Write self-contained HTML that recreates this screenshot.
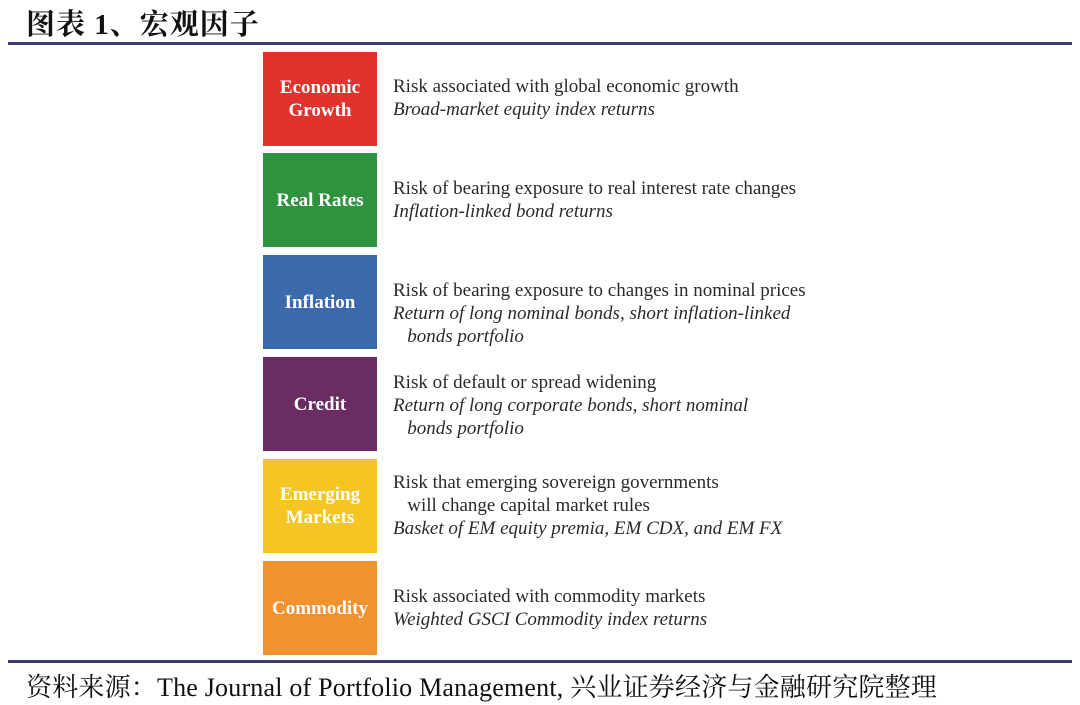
<!DOCTYPE html>
<html><head><meta charset="utf-8"><style>
body{margin:0;width:1080px;height:705px;background:#fff;position:relative;overflow:hidden;font-family:"Liberation Serif","Noto Serif CJK SC",serif;}
.t{position:absolute;left:26px;top:2px;font-size:29px;color:#111;font-weight:bold;letter-spacing:1px;}
.l{position:absolute;left:8px;width:1064px;height:3px;background:#3b3b70;}
.b{position:absolute;left:263px;width:114px;height:94px;color:#fff;font-weight:bold;font-size:19px;display:flex;align-items:center;justify-content:center;text-align:center;line-height:23px;}
.d{position:absolute;left:393px;font-size:19px;color:#2a2a2a;line-height:23px;white-space:nowrap;}
.d i{display:block;}
.f{position:absolute;left:26px;top:667px;font-size:26px;color:#111;white-space:nowrap;letter-spacing:0.2px;}
</style></head><body>
<div class="t">图表 1、宏观因子</div>
<div class="l" style="top:42px"></div>
<div class="b" style="top:52px;background:#e0332d">Economic<br>Growth</div>
<div class="d" style="top:75px">Risk associated with global economic growth<i>Broad-market equity index returns</i></div>
<div class="b" style="top:153px;background:#2f923f">Real Rates</div>
<div class="d" style="top:177px">Risk of bearing exposure to real interest rate changes<i>Inflation-linked bond returns</i></div>
<div class="b" style="top:255px;background:#3b6aaa">Inflation</div>
<div class="d" style="top:279px">Risk of bearing exposure to changes in nominal prices<i>Return of long nominal bonds, short inflation-linked</i><i>&nbsp;&nbsp;&nbsp;bonds portfolio</i></div>
<div class="b" style="top:357px;background:#6a2c63">Credit</div>
<div class="d" style="top:371px">Risk of default or spread widening<i>Return of long corporate bonds, short nominal</i><i>&nbsp;&nbsp;&nbsp;bonds portfolio</i></div>
<div class="b" style="top:459px;background:#f5c523">Emerging<br>Markets</div>
<div class="d" style="top:471px">Risk that emerging sovereign governments<br>&nbsp;&nbsp;&nbsp;will change capital market rules<i>Basket of EM equity premia, EM CDX, and EM FX</i></div>
<div class="b" style="top:561px;background:#f0922e">Commodity</div>
<div class="d" style="top:585px">Risk associated with commodity markets<i>Weighted GSCI Commodity index returns</i></div>
<div class="l" style="top:660px"></div>
<div class="f">资料来源：The Journal of Portfolio Management, 兴业证券经济与金融研究院整理</div>
</body></html>
